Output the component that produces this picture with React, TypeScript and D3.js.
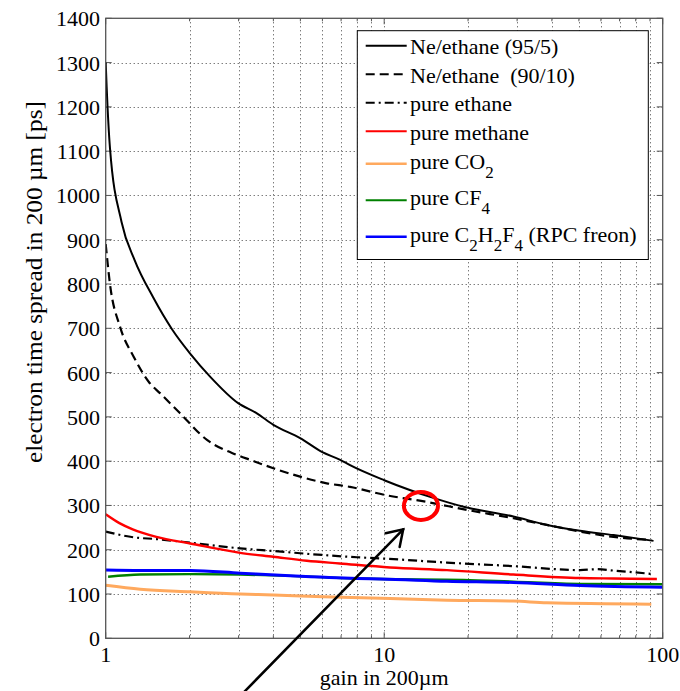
import React from "react";
import * as d3 from "d3";

// ---- data ----
const gainNe95 = [1, 1.008, 1.036, 1.14, 1.27, 1.48, 1.73, 2.01, 2.37, 2.99, 3.49, 4.0, 4.99, 5.97, 6.95, 7.54, 10, 15.2, 19.3, 29.1, 38.4, 50.5, 66.6, 92.7];
const ne95 = [1300, 1245, 1107, 940, 854, 770, 698, 643, 591, 531, 508, 482, 452, 421, 403, 391, 357, 316, 297, 275, 256, 243, 233, 220];

const gainNe90 = [1, 1.036, 1.125, 1.26, 1.44, 1.57, 1.85, 2.31, 2.96, 3.3, 4.0, 4.99, 6.22, 7.54, 10, 14.2, 19.8, 29.1, 38.4, 50.5, 66.6, 91];
const ne90 = [890, 800, 704, 636, 576, 553, 508, 448, 414, 403, 384, 365, 350, 342, 324, 308, 290, 271, 256, 241, 229, 222];

const gainEthane = [1, 1.26, 1.52, 2.01, 3.04, 4.0, 6.05, 7.98, 9.94, 16.8, 29.1, 50.5, 58, 66.6, 92.7];
const ethane = [241, 228, 224, 216, 203, 197, 188, 183, 180, 171, 163, 154, 156, 153, 145];

const gainMethane = [1, 1.12, 1.25, 1.52, 2.01, 3.04, 4.0, 5.27, 6.93, 10.5, 16.8, 29.1, 50.5, 66.6, 95.3];
const methane = [280, 260, 246, 229, 214, 193, 184, 175, 169, 160, 154, 144, 136, 135, 134];

const gainCO2 = [1, 1.33, 2.01, 3.04, 4.0, 6.05, 10.5, 16.8, 29.1, 38.4, 91];
const co2 = [120, 111, 105, 100, 98, 94, 90, 86, 84, 80, 77];

const gainCF4 = [1.02, 1.33, 2.01, 3.04, 4.59, 7.98, 9.7, 19.3, 29.1, 50.5, 100];
const cf4 = [139, 144, 145, 144, 141, 135, 134, 132, 128, 123, 122];

const gainFreon = [1, 1.33, 2.01, 3.04, 4.59, 7.98, 9.7, 16.8, 29.1, 50.5, 100];
const freon = [154, 153, 153, 147, 141, 135, 134, 129, 126, 119, 115];

const yTicks = [0, 100, 200, 300, 400, 500, 600, 700, 800, 900, 1000, 1100, 1200, 1300, 1400];
const xMajorTicks = [1, 10, 100];
const xMinorTicks = [2, 3, 4, 5, 6, 7, 8, 9, 20, 30, 40, 50, 60, 70, 80, 90];

const xLabel = "gain in 200µm";
const yLabel = "electron time spread in 200 µm [ps]";

// highlight annotation (data coords)
const circleAt = { g: 13.55, v: 299 };
const arrowFrom = { g: 2.99, v: -135 };
const arrowTo = { g: 11.7, v: 246 };

type Piece = [string, string]; // [normal text, subscript]
type Series = {
  label: Piece[];
  gain: number[];
  vals: number[];
  color: string;
  width: number;
  dash?: string;
};

const series: Series[] = [
  { label: [["Ne/ethane (95/5)", ""]], gain: gainNe95, vals: ne95, color: "#000", width: 2 },
  { label: [["Ne/ethane\u00a0\u00a0(90/10)", ""]], gain: gainNe90, vals: ne90, color: "#000", width: 2.2, dash: "9,5" },
  { label: [["pure ethane", ""]], gain: gainEthane, vals: ethane, color: "#000", width: 2.2, dash: "9,4,2,4" },
  { label: [["pure methane", ""]], gain: gainMethane, vals: methane, color: "#ff0000", width: 2.4 },
  { label: [["pure CO", "2"]], gain: gainCO2, vals: co2, color: "#ffa95e", width: 3 },
  { label: [["pure CF", "4"]], gain: gainCF4, vals: cf4, color: "#008000", width: 2.4 },
  { label: [["pure C", "2"], ["H", "2"], ["F", "4"], ["\u00a0(RPC freon)", ""]], gain: gainFreon, vals: freon, color: "#0000ff", width: 3 },
];

const W = 680;
const H = 691;
const PL = 105.7, PR = 662.7, PT = 18.3, PB = 638.3;
const FONT = "Liberation Serif, Times New Roman, Times, serif";

export default function App() {
  const x = d3.scaleLog().domain([1, 100]).range([PL, PR]);
  const y = d3.scaleLinear().domain([0, 1400]).range([PB, PT]);
  const line = d3
    .line<[number, number]>()
    .x((d) => x(d[0]))
    .y((d) => y(d[1]))
    .curve(d3.curveMonotoneX);

  // legend layout
  const legX0 = 357.3, legX1 = 648.3, legTop = 30.7;
  let cy = legTop + 0.8;
  const rows = series.map((s) => {
    const hasSub = s.label.some((p) => p[1] !== "");
    const h = hasSub ? 36.5 : 28.5;
    const c = cy + h / 2;
    cy += h;
    return { s, c, hasSub };
  });
  const legBottom = cy + 4.5;

  // arrow geometry
  const ax0 = x(arrowFrom.g), ay0 = y(arrowFrom.v);
  const ax1 = x(arrowTo.g), ay1 = y(arrowTo.v);
  const ang = Math.atan2(ay0 - ay1, ax0 - ax1);
  const headLen = 18;
  const spread = (33 * Math.PI) / 180;
  const h1 = [ax1 + headLen * Math.cos(ang + spread), ay1 + headLen * Math.sin(ang + spread)];
  const h2 = [ax1 + headLen * Math.cos(ang - spread), ay1 + headLen * Math.sin(ang - spread)];

  const gridColor = "#444";
  const axisColor = "#555";

  const renderLabel = (pieces: Piece[]) => {
    const out: React.ReactNode[] = [];
    let shifted = false;
    pieces.forEach(([n, sb], k) => {
      if (n) {
        out.push(
          <tspan key={"n" + k} dy={shifted ? -9 : undefined}>
            {n}
          </tspan>
        );
        shifted = false;
      }
      if (sb) {
        out.push(
          <tspan key={"s" + k} fontSize={17} dy={shifted ? 0 : 9}>
            {sb}
          </tspan>
        );
        shifted = true;
      }
    });
    return out;
  };

  return (
    <svg
      width={W}
      height={H}
      style={{ position: "absolute", left: 0, top: 0, background: "#fff", fontFamily: FONT }}
    >
      <defs>
        <clipPath id="plotclip">
          <rect x={PL} y={PT} width={PR - PL} height={PB - PT} />
        </clipPath>
      </defs>
      <rect x={0} y={0} width={W} height={H} fill="#fff" />

      {/* grid */}
      <g stroke={gridColor} strokeWidth={1} strokeDasharray="1,3">
        {yTicks
          .filter((t) => t > 0 && t < 1400)
          .map((t) => (
            <line key={"gy" + t} x1={PL} x2={PR} y1={Math.round(y(t)) + 0.5} y2={Math.round(y(t)) + 0.5} />
          ))}
        {[...xMinorTicks, 10].map((t) => (
          <line key={"gx" + t} x1={Math.round(x(t)) + 0.5} x2={Math.round(x(t)) + 0.5} y1={PT} y2={PB} />
        ))}
      </g>

      {/* ticks */}
      <g stroke={axisColor} strokeWidth={1}>
        {yTicks.map((t) => (
          <g key={"ty" + t}>
            <line x1={PL} x2={PL + 6} y1={y(t)} y2={y(t)} />
            <line x1={PR} x2={PR - 6} y1={y(t)} y2={y(t)} />
          </g>
        ))}
        {xMajorTicks.map((t) => (
          <g key={"tx" + t}>
            <line x1={x(t)} x2={x(t)} y1={PB} y2={PB - 6} />
            <line x1={x(t)} x2={x(t)} y1={PT} y2={PT + 6} />
          </g>
        ))}
        {xMinorTicks.map((t) => (
          <g key={"tm" + t}>
            <line x1={x(t)} x2={x(t)} y1={PB} y2={PB - 3} />
            <line x1={x(t)} x2={x(t)} y1={PT} y2={PT + 3} />
          </g>
        ))}
      </g>

      {/* data lines */}
      <g clipPath="url(#plotclip)" fill="none" strokeLinejoin="round">
        {series.map((s, i) => (
          <path
            key={"s" + i}
            d={line(s.gain.map((g, k) => [g, s.vals[k]] as [number, number])) || ""}
            stroke={s.color}
            strokeWidth={s.width}
            strokeDasharray={s.dash}
          />
        ))}
      </g>

      {/* axes box */}
      <rect x={PL} y={PT} width={PR - PL} height={PB - PT} fill="none" stroke={axisColor} strokeWidth={1.3} />

      {/* tick labels */}
      <g fontSize={22} fill="#000" fontFamily={FONT}>
        {yTicks.map((t) => (
          <text key={"ly" + t} x={100} y={y(t) + 8} textAnchor="end">
            {t}
          </text>
        ))}
        {xMajorTicks.map((t) => (
          <text key={"lx" + t} x={x(t)} y={662} textAnchor="middle">
            {t}
          </text>
        ))}
      </g>

      {/* axis labels */}
      <text x={(PL + PR) / 2} y={685} fontSize={22} textAnchor="middle" fill="#000" fontFamily={FONT}>
        {xLabel}
      </text>
      <text
        transform={`translate(42, 282) rotate(-90)`}
        fontSize={23}
        textAnchor="middle"
        fill="#000"
        fontFamily={FONT}
        textLength={362}
        lengthAdjust="spacingAndGlyphs"
      >
        {yLabel}
      </text>

      {/* legend */}
      <rect x={legX0} y={legTop} width={legX1 - legX0} height={legBottom - legTop} fill="#fff" stroke="#000" strokeWidth={1} />
      {rows.map(({ s, c, hasSub }, i) => (
        <g key={"leg" + i}>
          <line
            x1={365.7}
            x2={406.7}
            y1={c}
            y2={c}
            stroke={s.color}
            strokeWidth={s.width > 2.5 ? 2.6 : 2}
            strokeDasharray={s.dash}
          />
          <text x={410} y={hasSub ? c + 5 : c + 8.5} fontSize={22} fill="#000" fontFamily={FONT}>
            {renderLabel(s.label)}
          </text>
        </g>
      ))}

      {/* annotation */}
      <ellipse cx={x(circleAt.g)} cy={y(circleAt.v)} rx={17} ry={14} fill="none" stroke="#ff0000" strokeWidth={4} />
      <g stroke="#000" strokeWidth={2.5} strokeLinecap="round" fill="none">
        <line x1={ax0} y1={ay0} x2={ax1} y2={ay1} />
        <polyline points={`${h1[0]},${h1[1]} ${ax1},${ay1} ${h2[0]},${h2[1]}`} />
      </g>
    </svg>
  );
}
